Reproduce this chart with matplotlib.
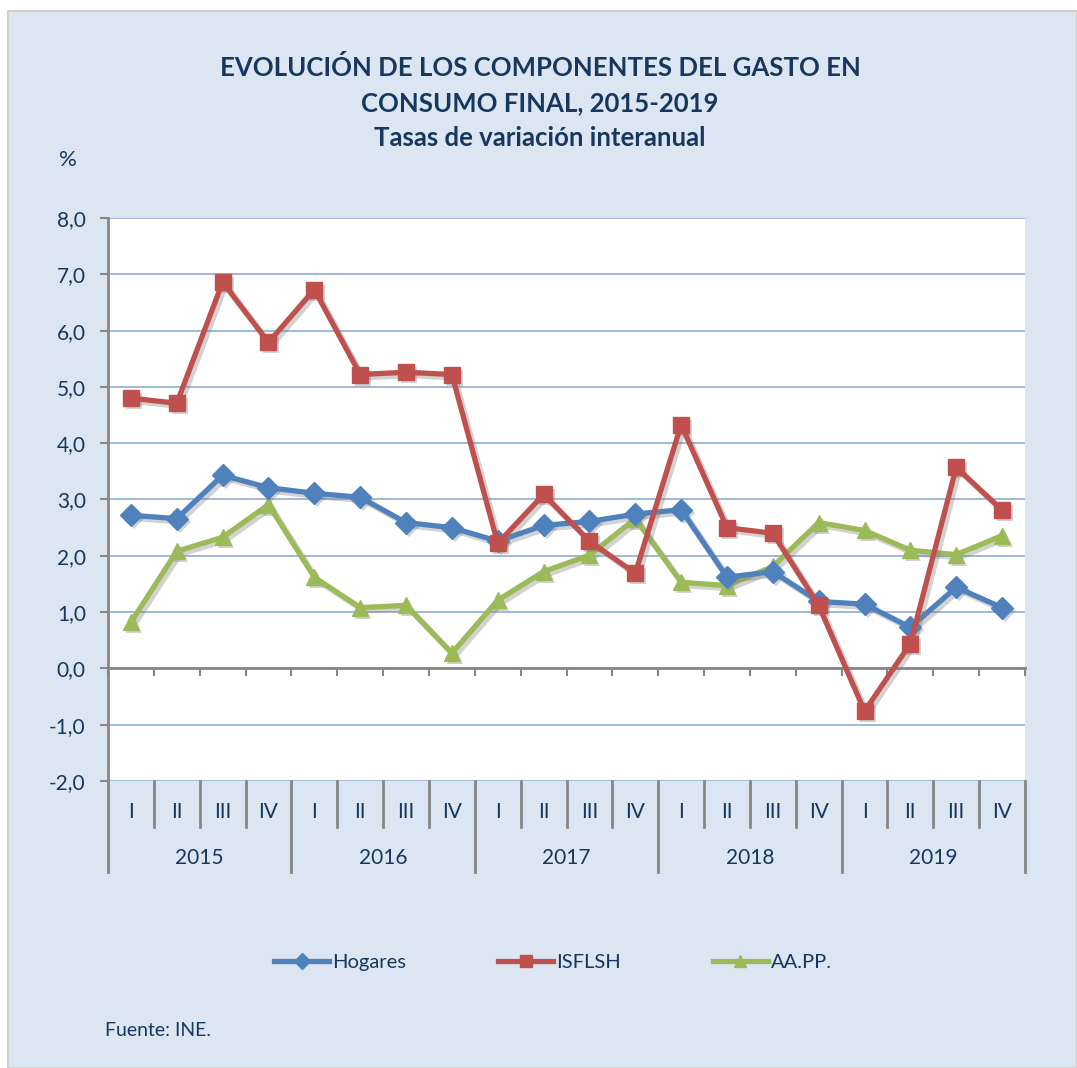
import numpy as np
import matplotlib.pyplot as plt
from matplotlib.patches import Rectangle
from matplotlib.lines import Line2D
from matplotlib.transforms import offset_copy
from matplotlib.ticker import FuncFormatter

plt.rcParams['font.family'] = ['Lato', 'DejaVu Sans']

# Data
years = ['2015', '2016', '2017', '2018', '2019']
quarters = ['I', 'II', 'III', 'IV']
hogares = [2.72, 2.66, 3.43, 3.21, 3.11, 3.04, 2.59, 2.50, 2.26, 2.54,
           2.61, 2.74, 2.82, 1.62, 1.72, 1.19, 1.14, 0.73, 1.44, 1.08]
isflsh = [4.80, 4.71, 6.86, 5.79, 6.73, 5.22, 5.26, 5.22, 2.22, 3.09,
          2.26, 1.69, 4.33, 2.50, 2.40, 1.12, -0.76, 0.44, 3.57, 2.81]
aapp = [0.82, 2.08, 2.33, 2.91, 1.62, 1.08, 1.12, 0.27, 1.21, 1.72,
        2.01, 2.66, 1.53, 1.47, 1.81, 2.59, 2.45, 2.10, 2.02, 2.36]

navy = '#17375e'
bg = '#dce6f2'
grid_c = '#95b3d7'
axis_c = '#868686'

W, H = 1077, 1068
fig = plt.figure(figsize=(W / 100, H / 100), dpi=100, facecolor='white')
fig.patches.append(Rectangle((8 / W, 0), 1 - 8 / W, 1 - 11 / H, transform=fig.transFigure,
                             facecolor=bg, edgecolor='#d0d0d0', linewidth=1.5, zorder=-5))

ax = fig.add_axes([108 / W, 1 - 781 / H, (1025 - 108) / W, (781 - 218) / H])
ax.set_facecolor('white')

x = np.arange(len(hogares))
shadow_tr = offset_copy(ax.transData, fig=fig, x=3, y=-3, units='dots')
series = [(hogares, 'Hogares', '#4f81bd', 'D', 11, 3),
          (isflsh, 'ISFLSH', '#c0504d', 's', 12, 4),
          (aapp, 'AA.PP.', '#9bbb59', '^', 12, 2)]
handles = []
for vals, name, col, mk, ms, z in series:
    # soft drop shadow
    ax.plot(x, vals, color='#7f7f7f', alpha=0.35, lw=4.2, marker=mk, markersize=ms,
            markeredgewidth=0, transform=shadow_tr, zorder=z - 0.5)
    ax.plot(x, vals, color=col, lw=3.8, marker=mk, markersize=ms,
            markerfacecolor=col, markeredgecolor=col, zorder=z)
    handles.append(Line2D([], [], color=col, lw=3.8, marker=mk, markersize=8,
                          markerfacecolor=col, markeredgecolor=col, label=name))

ax.set_xlim(-0.5, len(x) - 0.5)
ax.set_ylim(-2, 8)
ax.set_yticks(np.arange(-2, 9, 1))
ax.yaxis.set_major_formatter(FuncFormatter(lambda v, p: f'{v:.1f}'.replace('.', ',')))
ax.yaxis.grid(True, color=grid_c, lw=1.3)
ax.set_axisbelow(True)
ax.tick_params(axis='y', direction='out', length=6, width=1.5, color=axis_c,
               labelsize=15, labelcolor=navy, pad=10)

for s in ['top', 'right']:
    ax.spines[s].set_visible(False)
ax.spines['left'].set_color(axis_c)
ax.spines['left'].set_linewidth(2)
ax.spines['bottom'].set_position(('data', 0))
ax.spines['bottom'].set_color(axis_c)
ax.spines['bottom'].set_linewidth(2)
ax.set_xticks(np.arange(-0.5, len(x), 1))
ax.set_xticklabels([])
ax.tick_params(axis='x', direction='out', length=6, width=1.5, color=axis_c)

# category axis below the plot
tr = ax.get_xaxis_transform()
h = 781 - 218
yq = -(827 - 781) / h
yy = -(872 - 781) / h
for k in range(len(x) + 1):
    b = k - 0.5
    y_end = yy if k % 4 == 0 else yq
    ax.plot([b, b], [0, y_end], transform=tr, color=axis_c, lw=2, clip_on=False)
for i in range(len(x)):
    ax.text(i, -(812 - 781) / h, quarters[i % 4], transform=tr,
            ha='center', va='center', fontsize=15, color=navy)
for j, yr in enumerate(years):
    ax.text(4 * j + 1.5, -(858 - 781) / h, yr, transform=tr,
            ha='center', va='center', fontsize=15, color=navy)

fig.text(540 / W, 1 - 103 / H,
         'EVOLUCIÓN DE LOS COMPONENTES DEL GASTO EN\nCONSUMO FINAL, 2015-2019\nTasas de variación interanual',
         ha='center', va='center', fontsize=18.5, fontweight='bold', color=navy, linespacing=1.55)
fig.text(68 / W, 1 - 160 / H, '%', ha='center', va='center', fontsize=16, color=navy)

fig.legend(handles=handles, loc='center', bbox_to_anchor=(553 / W, 1 - 962 / H), ncol=3,
           frameon=False, fontsize=14.5, handlelength=2.7, handletextpad=0.15,
           columnspacing=4.6, labelcolor=navy)

fig.text(105 / W, 1 - 1030 / H, 'Fuente: INE.', ha='left', va='center', fontsize=14,
         color=navy)

fig.savefig('out.png', dpi=100, facecolor=fig.get_facecolor())
